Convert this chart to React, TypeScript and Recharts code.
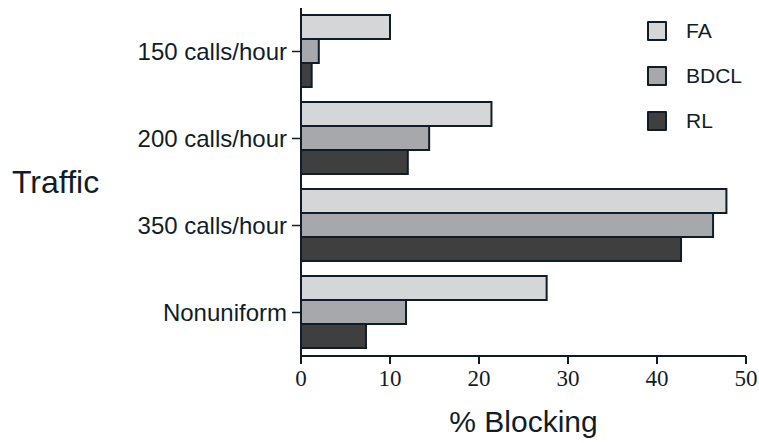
import { BarChart, Bar, XAxis, YAxis, Legend } from 'recharts';

const categories = ['150 calls/hour', '200 calls/hour', '350 calls/hour', 'Nonuniform'];
const faValues = [10, 21.4, 47.8, 27.6];
const bdclValues = [2, 14.4, 46.3, 11.8];
const rlValues = [1.2, 12.0, 42.7, 7.3];
const xTicks = [0, 10, 20, 30, 40, 50];

const series = [
  { key: 'FA', color: '#d5d6d8' },
  { key: 'BDCL', color: '#a7a8ab' },
  { key: 'RL', color: '#3f3f40' },
];

const data = categories.map((c, i) => ({
  traffic: c,
  FA: faValues[i],
  BDCL: bdclValues[i],
  RL: rlValues[i],
}));

const INK = '#101d28';
const SANS = '"Liberation Sans", Arial, sans-serif';
const SERIF = '"Liberation Serif", "Times New Roman", serif';

// legend keeps the series order (recharts would sort it by name)
function LegendBox() {
  return (
    <div style={{ fontFamily: SANS, fontSize: 21, color: INK }}>
      {series.map((s) => (
        <div key={s.key} style={{ display: 'flex', alignItems: 'center', height: 45 }}>
          <div
            style={{
              width: 20,
              height: 20,
              boxSizing: 'border-box',
              background: s.color,
              border: `2px solid ${INK}`,
              borderRadius: 1,
              marginRight: 19,
            }}
          />
          <span>{s.key}</span>
        </div>
      ))}
    </div>
  );
}

export default function App() {
  return (
    <div style={{ position: 'absolute', left: 0, top: 0, background: '#fff' }}>
      <BarChart
        width={759}
        height={443}
        data={data}
        layout="vertical"
        margin={{ top: 8, right: 13, bottom: 0, left: 0 }}
        barGap={0}
        barCategoryGap={7}
      >
        <XAxis
          type="number"
          domain={[0, 50]}
          ticks={xTicks}
          height={87}
          axisLine={{ stroke: INK, strokeWidth: 2 }}
          tickLine={{ stroke: INK, strokeWidth: 2 }}
          tickSize={8}
          tickMargin={6}
          tick={{ fill: INK, fontFamily: SERIF, fontSize: 23 }}
          label={{
            value: '% Blocking',
            position: 'insideBottom',
            offset: 11,
            fill: INK,
            fontFamily: SANS,
            fontSize: 30,
          }}
        />
        <YAxis
          type="category"
          dataKey="traffic"
          width={301}
          axisLine={{ stroke: INK, strokeWidth: 2 }}
          tickLine={{ stroke: INK, strokeWidth: 1.5 }}
          tickSize={9}
          tickMargin={5}
          tick={{ fill: INK, fontFamily: SANS, fontSize: 24 }}
          label={{
            value: 'Traffic',
            position: 'insideLeft',
            offset: 12,
            fill: INK,
            fontFamily: SANS,
            fontSize: 32,
          }}
        />
        <Legend
          layout="vertical"
          verticalAlign="middle"
          align="center"
          content={<LegendBox />}
          wrapperStyle={{ top: 8, left: 647, width: 110 }}
        />
        {series.map((s) => (
          <Bar
            key={s.key}
            dataKey={s.key}
            name={s.key}
            fill={s.color}
            stroke={INK}
            strokeWidth={2}
            isAnimationActive={false}
          />
        ))}
      </BarChart>
    </div>
  );
}
